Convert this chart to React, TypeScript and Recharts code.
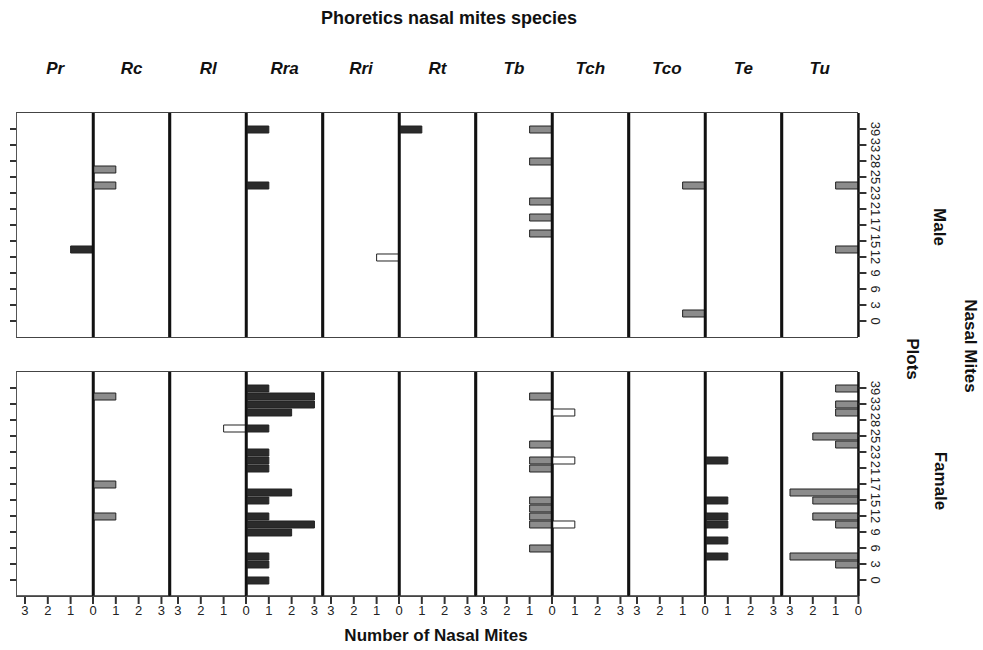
import React from "react";
import { BarChart, Bar, XAxis, YAxis, ReferenceLine } from "recharts";

// species panels, left to right
const species = ["Pr", "Rc", "Rl", "Rra", "Rri", "Rt", "Tb", "Tch", "Tco", "Te", "Tu"];

// plots, top to bottom. only every other one carries a label in the figure
const plots = [
  "39", "36", "33", "30", "28", "27", "25", "24", "23", "22", "21", "19", "17",
  "16", "15", "14", "12", "11", "9", "8", "6", "5", "3", "1", "0",
];

const countTicks = [0, 1, 2, 3];

// number of nasal mites per plot and species
const male = [
  { plot: "39", Rra: 1, Rt: 1, Tb: 1 },
  { plot: "36" },
  { plot: "33" },
  { plot: "30" },
  { plot: "28", Tb: 1 },
  { plot: "27", Rc: 1 },
  { plot: "25" },
  { plot: "24", Rc: 1, Rra: 1, Tco: 1, Tu: 1 },
  { plot: "23" },
  { plot: "22", Tb: 1 },
  { plot: "21" },
  { plot: "19", Tb: 1 },
  { plot: "17" },
  { plot: "16", Tb: 1 },
  { plot: "15" },
  { plot: "14", Pr: 1, Tu: 1 },
  { plot: "12", Rri: 1 },
  { plot: "11" },
  { plot: "9" },
  { plot: "8" },
  { plot: "6" },
  { plot: "5" },
  { plot: "3" },
  { plot: "1", Tco: 1 },
  { plot: "0" },
];

const female = [
  { plot: "39", Rra: 1, Tu: 1 },
  { plot: "36", Rc: 1, Rra: 3, Tb: 1 },
  { plot: "33", Rra: 3, Tu: 1 },
  { plot: "30", Rra: 2, Tch: 1, Tu: 1 },
  { plot: "28" },
  { plot: "27", Rl: 1, Rra: 1 },
  { plot: "25", Tu: 2 },
  { plot: "24", Tb: 1, Tu: 1 },
  { plot: "23", Rra: 1 },
  { plot: "22", Rra: 1, Tb: 1, Tch: 1, Te: 1 },
  { plot: "21", Rra: 1, Tb: 1 },
  { plot: "19" },
  { plot: "17", Rc: 1 },
  { plot: "16", Rra: 2, Tu: 3 },
  { plot: "15", Rra: 1, Tb: 1, Te: 1, Tu: 2 },
  { plot: "14", Tb: 1 },
  { plot: "12", Rc: 1, Rra: 1, Tb: 1, Te: 1, Tu: 2 },
  { plot: "11", Rra: 3, Tb: 1, Tch: 1, Te: 1, Tu: 1 },
  { plot: "9", Rra: 2 },
  { plot: "8", Te: 1 },
  { plot: "6", Tb: 1 },
  { plot: "5", Rra: 1, Te: 1, Tu: 3 },
  { plot: "3", Rra: 1, Tu: 1 },
  { plot: "1" },
  { plot: "0", Rra: 1 },
];

const DARK = "#2b2b2b";
const GRAY = "#8c8c8c";
const WHITE = "#ffffff";
const FILL: Record<string, string> = {
  Pr: DARK, Rc: GRAY, Rl: WHITE, Rra: DARK, Rri: WHITE, Rt: DARK,
  Tb: GRAY, Tch: WHITE, Tco: GRAY, Te: DARK, Tu: GRAY,
};

// empty cells become 0 so every panel still gets its axes drawn
const fillZeros = (rows: any[]) =>
  rows.map(r => ({ ...Object.fromEntries(species.map(s => [s, 0])), ...r }));

const LEFT = 17;
const PANEL_W = 76.45;
const PLOT_H = 224;
const XMAX = 3.35;
const rows = [
  { name: "Male", top: 113, data: fillZeros(male) },
  { name: "Famale", top: 372, data: fillZeros(female) },
];

const TITLE_FONT = '"Liberation Sans", Arial, sans-serif';
const TICK_FONT = '"Liberation Sans", Arial, sans-serif';

function RightTick({ x, y, payload }: any) {
  if (plots.indexOf(payload.value) % 2) return <g />;
  return (
    <g>
      <line x1={x} x2={x + 8} y1={y} y2={y} stroke="#333" strokeWidth={2} />
      <text
        transform={`translate(${x + 17},${y}) rotate(90)`}
        textAnchor="middle"
        dominantBaseline="central"
        fontSize={13}
        fontFamily={TICK_FONT}
        fill="#222"
      >
        {payload.value}
      </text>
    </g>
  );
}

function LeftTick({ x, y, payload }: any) {
  if (plots.indexOf(payload.value) % 2) return <g />;
  return <line x1={x - 7} x2={x} y1={y} y2={y} stroke="#333" strokeWidth={2} />;
}

function Panel({ sp, k, data, top, bottomAxis }: any) {
  const reversed = k % 2 === 0;
  const first = k === 0;
  const last = k === species.length - 1;
  const lw = first ? 10 : 0;
  const rw = last ? 30 : 0;
  const xh = bottomAxis ? 32 : 0;
  // the shared 0 at a boundary is labelled once, by the right-pointing panel
  const ticks = reversed && !last ? countTicks.slice(1) : countTicks;
  return (
    <div style={{ position: "absolute", left: LEFT + k * PANEL_W - lw, top }}>
      <BarChart
        layout="vertical"
        width={PANEL_W + lw + rw}
        height={PLOT_H + xh}
        data={data}
        margin={{ top: 0, right: 0, bottom: 0, left: 0 }}
        barSize={7}
      >
        <XAxis
          type="number"
          domain={[0, XMAX]}
          ticks={ticks}
          reversed={reversed}
          hide={!bottomAxis}
          height={xh}
          tickSize={8}
          tickMargin={2}
          interval={0}
          axisLine={{ stroke: "#333", strokeWidth: 1.5 }}
          tickLine={{ stroke: "#333", strokeWidth: 2 }}
          tick={{ fontSize: 13, fill: "#222", fontFamily: TICK_FONT }}
        />
        <YAxis
          type="category"
          dataKey="plot"
          hide={!first && !last}
          orientation={last ? "right" : "left"}
          width={first ? lw : last ? rw : 0}
          padding={{ top: 12, bottom: 12 }}
          interval={0}
          axisLine={false}
          tickLine={false}
          tickSize={0}
          tickMargin={0}
          tick={last ? <RightTick /> : <LeftTick />}
        />
        <ReferenceLine x={0} stroke="#111" strokeWidth={2.5} />
        {!first && <ReferenceLine x={XMAX} stroke="#111" strokeWidth={2.5} />}
        <Bar
          dataKey={sp}
          fill={FILL[sp]}
          stroke="#222"
          strokeWidth={1}
          isAnimationActive={false}
        />
      </BarChart>
    </div>
  );
}

function Label({ x, y, rotate, size, italic, children }: any) {
  return (
    <div
      style={{
        position: "absolute",
        left: x,
        top: y,
        transform: `translate(-50%, -50%)${rotate ? " rotate(90deg)" : ""}`,
        whiteSpace: "nowrap",
        fontFamily: TITLE_FONT,
        fontWeight: "bold",
        fontStyle: italic ? "italic" : "normal",
        fontSize: size,
        color: "#111",
        lineHeight: 1,
      }}
    >
      {children}
    </div>
  );
}

export default function App() {
  return (
    <div
      style={{
        position: "absolute",
        left: 0,
        top: 0,
        width: 983,
        height: 650,
        background: "#fff",
        overflow: "hidden",
      }}
    >
      <style>{".recharts-surface { overflow: visible; }"}</style>
      <Label x={449} y={18} size={18}>Phoretics nasal mites species</Label>
      {species.map((sp, k) => (
        <Label key={sp} x={LEFT + (k + 0.5) * PANEL_W} y={68} size={17} italic>
          {sp}
        </Label>
      ))}

      {rows.map((r, ri) => (
        <React.Fragment key={r.name}>
          {species.map((sp, k) => (
            <Panel
              key={sp}
              sp={sp}
              k={k}
              data={r.data}
              top={r.top}
              bottomAxis={ri === rows.length - 1}
            />
          ))}
          <div
            style={{
              position: "absolute",
              left: LEFT - 0.75,
              top: r.top - 0.75,
              width: PANEL_W * species.length + 0.75,
              height: PLOT_H + 1.5,
              borderTop: "1.5px solid #444",
              borderBottom: "1.5px solid #444",
              borderLeft: "1.5px solid #555",
              boxSizing: "border-box",
              pointerEvents: "none",
            }}
          />
        </React.Fragment>
      ))}

      <Label x={939} y={227} size={17} rotate>Male</Label>
      <Label x={940} y={481} size={17} rotate>Famale</Label>
      <Label x={912} y={359} size={17} rotate>Plots</Label>
      <Label x={970} y={346} size={17} rotate>Nasal Mites</Label>
      <Label x={436} y={635} size={17}>Number of Nasal Mites</Label>
    </div>
  );
}
